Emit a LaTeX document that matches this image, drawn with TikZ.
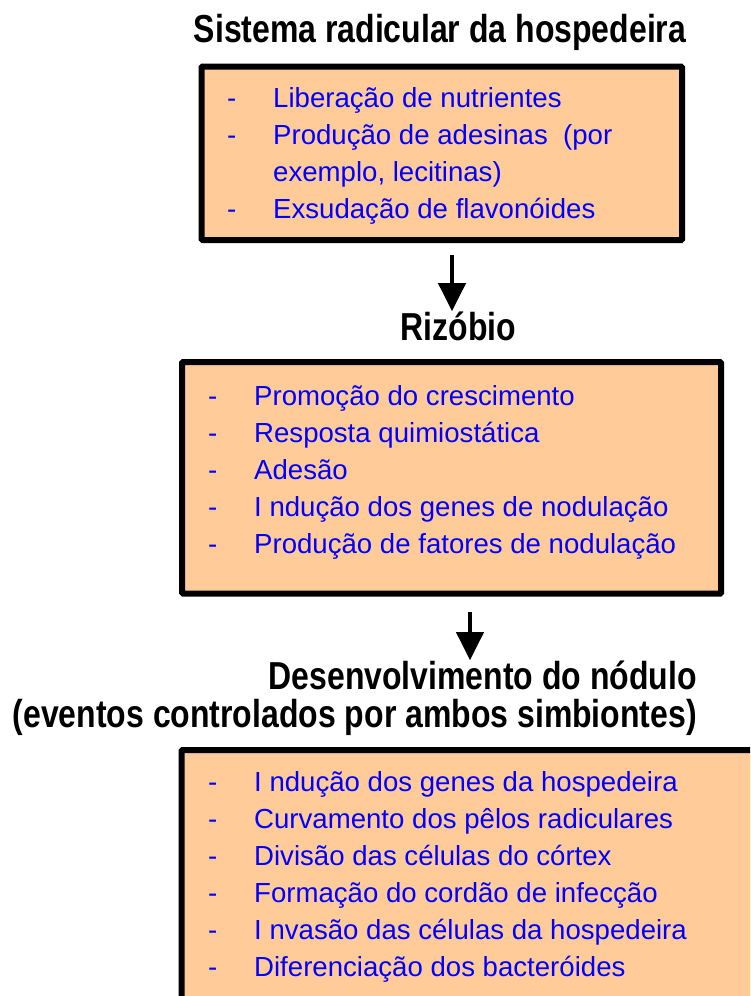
\documentclass[tikz,border=0pt]{standalone}
\usepackage{fontspec}
\setmainfont{Liberation Sans}
\newfontfamily\titlefont[FakeStretch=0.82]{Liberation Sans}
\usepackage{array}
\usetikzlibrary{arrows.meta,positioning}
\definecolor{pessego}{RGB}{255,204,153}
\tikzstyle{caixa}=[draw, line width=6pt, fill=pessego, anchor=north west, inner sep=0pt, outer sep=0pt, rounded corners=1pt]
\tikzstyle{lista}=[anchor=base west, inner sep=0pt, text=blue, font=\fontsize{27.6}{37}\selectfont]
\tikzstyle{titulo}=[inner sep=0pt, font=\titlefont\bfseries\fontsize{39}{38}\selectfont]
\tikzstyle{seta}=[line width=4pt, -{Triangle[length=28pt,width=27pt]}]

\begin{document}
\begin{tikzpicture}[x=1pt,y=-1pt]
        \clip (0,0) rectangle (750,996);
        % host roots
        \node [titulo,anchor=base] (sistema) at (440,42) {Sistema radicular da hospedeira};
        \node [caixa,minimum width=480.5pt,minimum height=173.5pt] (caixa1) at (201.5,66.5) {};
        \node [lista] (lista1) at (227,107) {\begin{tabular}[t]{@{}p{46pt}@{}l@{}}
            - & Liberação de nutrientes\\
            - & Produção de adesinas\ \ (por\\
              & exemplo, lecitinas)\\
            - & Exsudação de flavonóides
        \end{tabular}};
        % rhizobium
        \node [titulo,anchor=base] (rizobio) at (458.5,340) {Rizóbio};
        \node [caixa,minimum width=539pt,minimum height=231.5pt] (caixa2) at (182,362) {};
        \node [lista] (lista2) at (208,405) {\begin{tabular}[t]{@{}p{46pt}@{}l@{}}
            - & Promoção do crescimento\\
            - & Resposta quimiostática\\
            - & Adesão\\
            - & I ndução dos genes de nodulação\\
            - & Produção de fatores de nodulação
        \end{tabular}};
        % nodule
        \node [titulo,anchor=base east,align=right] (nodulo) at (697,727) {Desenvolvimento do nódulo\\(eventos controlados por ambos simbiontes)};
        \node [caixa,minimum width=600pt,minimum height=280pt] (caixa3) at (181.5,750) {};
        \node [lista] (lista3) at (208,791) {\begin{tabular}[t]{@{}p{46pt}@{}l@{}}
            - & I ndução dos genes da hospedeira\\
            - & Curvamento dos pêlos radiculares\\
            - & Divisão das células do córtex\\
            - & Formação do cordão de infecção\\
            - & I nvasão das células da hospedeira\\
            - & Diferenciação dos bacteróides
        \end{tabular}};
        \coordinate (s1) at (452,255);
        \coordinate (s2) at (470,612);
        \draw [seta] (s1) -- (s1 |- rizobio.north);
        \draw [seta] (s2) -- (s2 |- nodulo.north);
    \end{tikzpicture}
\end{document}
